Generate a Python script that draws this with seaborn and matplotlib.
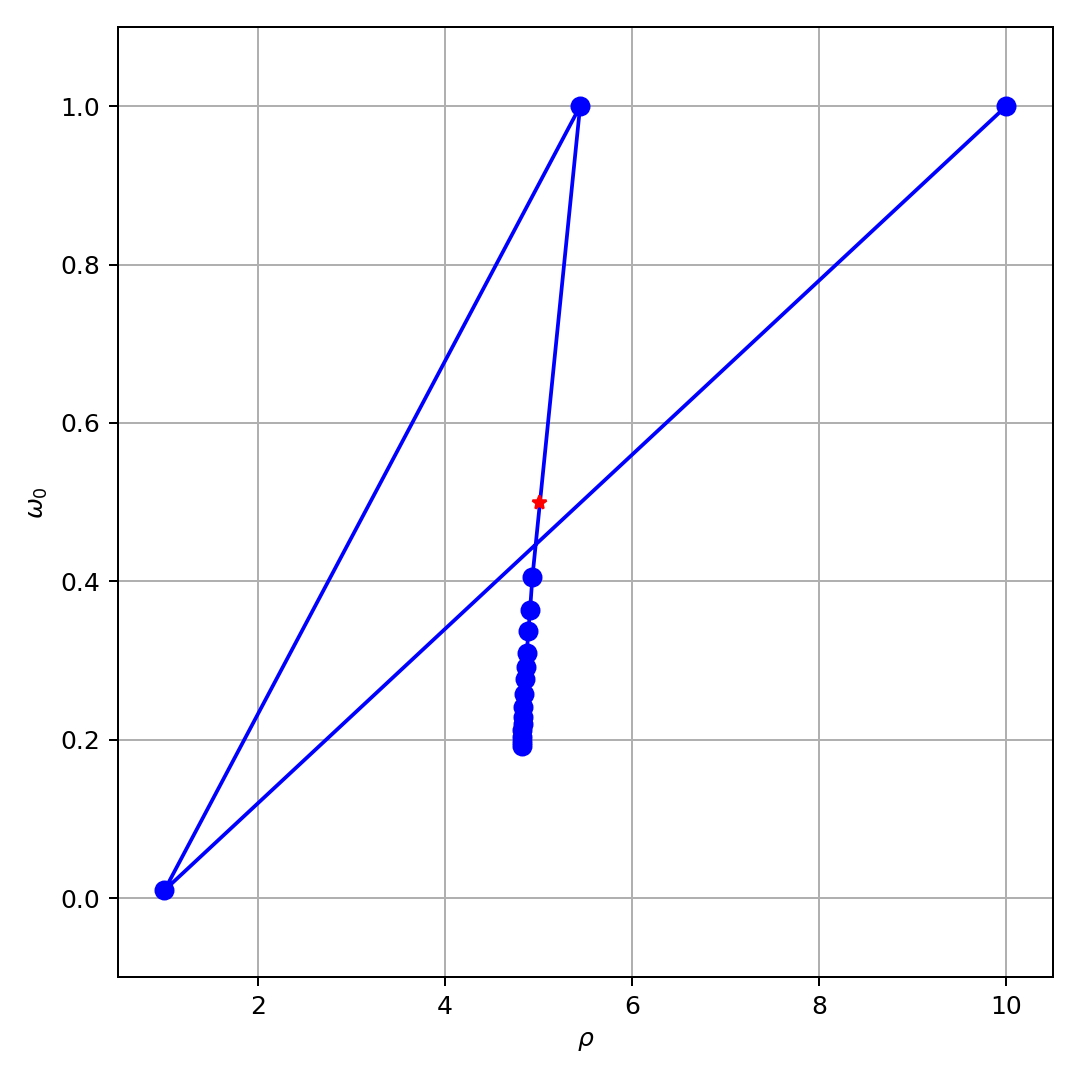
import matplotlib
matplotlib.use("Agg")
import matplotlib.pyplot as plt
import seaborn as sns
import pandas as pd

rho = [10.0, 1.0, 5.444, 4.934, 4.909, 4.891, 4.873, 4.863, 4.856, 4.845, 4.838,
       4.833, 4.829, 4.826, 4.823, 4.821, 4.820]
omega0 = [1.0, 0.01, 1.0, 0.4057, 0.3645, 0.337, 0.309, 0.292, 0.2765, 0.2584, 0.2416,
          0.229, 0.220, 0.212, 0.204, 0.197, 0.192]
star_rho = [5.0]
star_omega = [0.5]

df = pd.DataFrame({"rho": rho, "omega0": omega0, "step": range(len(rho))})

fig, ax = plt.subplots(figsize=(6, 6), dpi=180)
sns.lineplot(data=df, x="rho", y="omega0", sort=False, estimator=None,
             color="blue", marker="o", markersize=7, markeredgewidth=1.0,
             markeredgecolor="blue", linewidth=1.5, ax=ax, zorder=3)
sns.lineplot(x=star_rho, y=star_omega, marker="*", color="red", markersize=6,
             markeredgewidth=1.0, markeredgecolor="red", linestyle="none",
             ax=ax, zorder=4)
ax.set_xlim(0.5, 10.5)
ax.set_ylim(-0.1, 1.1)
ax.grid(True, color="#b0b0b0", linewidth=0.8)
ax.set_axisbelow(True)
ax.set_xlabel(r"$\rho$")
ax.set_ylabel(r"$\omega_0$")
fig.subplots_adjust(left=0.109, right=0.975, top=0.975, bottom=0.095)
fig.savefig("out.png", dpi=180)
